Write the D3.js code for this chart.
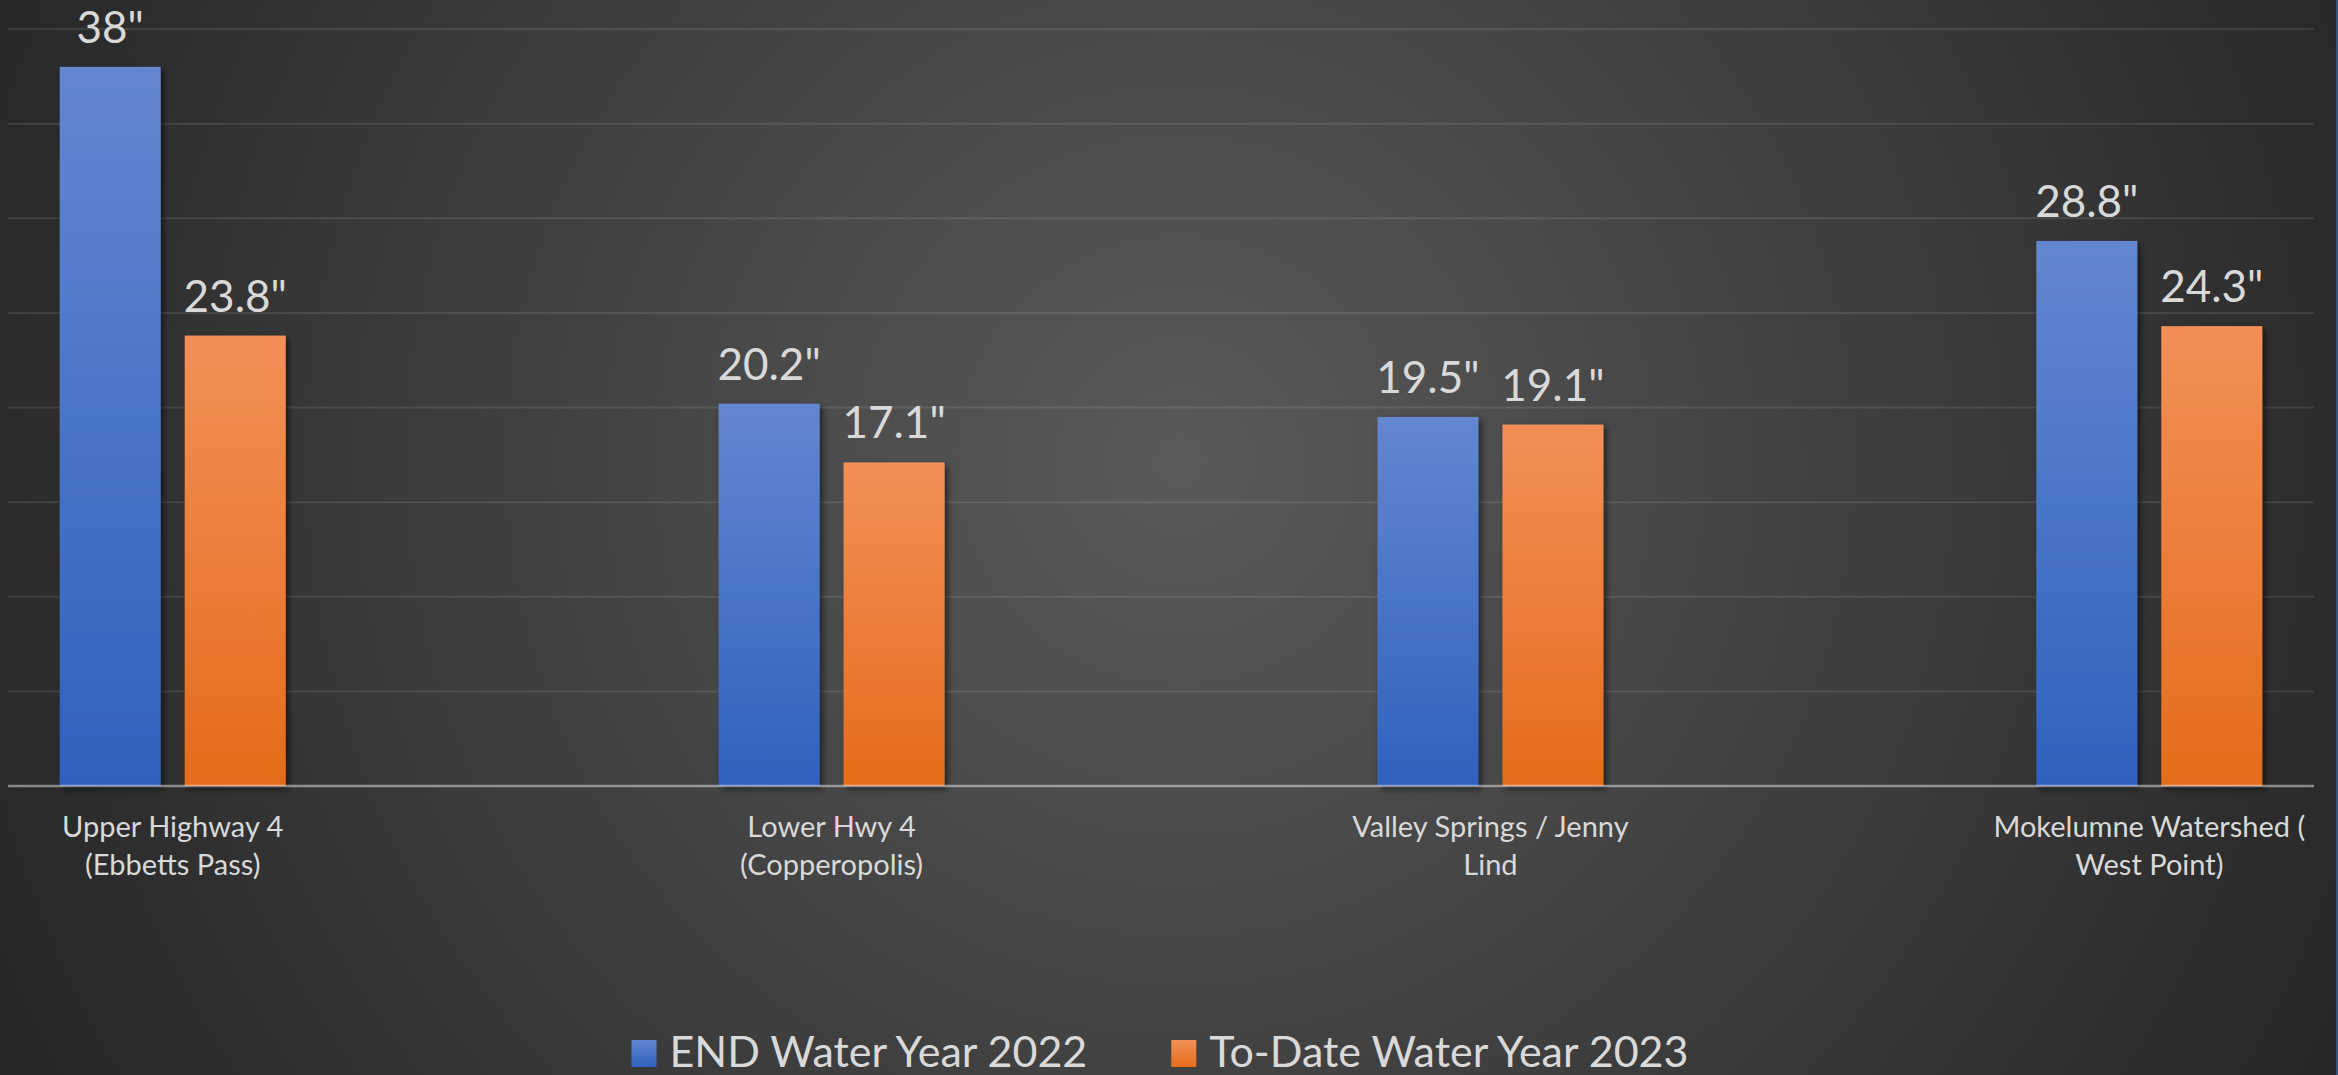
<!DOCTYPE html>
<html>
<head>
<meta charset="utf-8">
<script src="https://cdn.jsdelivr.net/npm/d3@7/dist/d3.min.js"></script>
<style>
  html, body { margin: 0; padding: 0; background: #262626; overflow: hidden; }
  svg { display: block; }
  .gridLine { stroke: rgba(255,255,255,0.10); stroke-width: 2; }
  .baseLine { stroke: rgba(255,255,255,0.45); stroke-width: 2.5; }
  .catLabel { fill: #d9d9d9; font-family: Lato, "Open Sans", sans-serif; font-size: 29px; }
  .valLabel { fill: #d9d9d9; font-family: Lato, "Open Sans", sans-serif; font-size: 44px; }
  .legendTxt { fill: #d9d9d9; font-family: Lato, "Open Sans", sans-serif; font-size: 43px; }
</style>
</head>
<body>
<div id="chart"></div>
<script>
// data
var categories = [
  "Upper Highway 4\n(Ebbetts Pass)",
  "Lower Hwy 4\n(Copperopolis)",
  "Valley Springs / Jenny\nLind",
  "Mokelumne Watershed (\nWest Point)"
];
var seriesNames = ["END Water Year 2022", "To-Date Water Year 2023"];
var endWY2022 = [38, 20.2, 19.5, 28.8];
var toDateWY2023 = [23.8, 17.1, 19.1, 24.3];
var yTicks = [5, 10, 15, 20, 25, 30, 35, 40];

var seriesColors = {
  "END Water Year 2022": ["#6387cf", "#2f61be"],
  "To-Date Water Year 2023": ["#f39058", "#e46c1b"]
};

(function () {
  'use strict'

  var W = 2338, H = 1075;
  var plotLeft = 8, plotRight = 2314, plotTop = 29, plotBottom = 786;

  var rows = categories.map(function (c, i) {
    return { cat: c, values: [endWY2022[i], toDateWY2023[i]] };
  });

  var svg = d3.select("#chart").append("svg")
    .attr("width", W)
    .attr("height", H);

  var defs = svg.append("defs");

  // background: radial gradient, lighter in the middle
  var bg = defs.append("radialGradient")
    .attr("id", "bgGrad")
    .attr("gradientUnits", "userSpaceOnUse")
    .attr("cx", 1180).attr("cy", 460).attr("r", 1300);
  bg.append("stop").attr("offset", "0%").attr("stop-color", "#5a5a5a");
  bg.append("stop").attr("offset", "100%").attr("stop-color", "#262626");

  seriesNames.forEach(function (s, i) {
    var g = defs.append("linearGradient")
      .attr("id", "barGrad" + i)
      .attr("x1", 0).attr("y1", 0).attr("x2", 0).attr("y2", 1);
    g.append("stop").attr("offset", "0%").attr("stop-color", seriesColors[s][0]);
    g.append("stop").attr("offset", "100%").attr("stop-color", seriesColors[s][1]);
  });

  var shadow = defs.append("filter")
    .attr("id", "barShadow")
    .attr("x", "-20%").attr("y", "-5%").attr("width", "150%").attr("height", "115%");
  shadow.append("feDropShadow")
    .attr("dx", 3).attr("dy", 3).attr("stdDeviation", 3)
    .attr("flood-color", "#000").attr("flood-opacity", 0.55);

  svg.append("rect")
    .attr("width", W).attr("height", H)
    .attr("fill", "url(#bgGrad)");

  var x0 = d3.scalePoint()
    .domain(categories)
    .range([plotLeft, plotRight])
    .padding(0.25);

  var x1 = d3.scaleBand()
    .domain(seriesNames)
    .range([-113, 113])
    .paddingInner(0.192);

  var y = d3.scaleLinear()
    .domain([0, 40])
    .range([plotBottom, plotTop]);

  // gridlines
  svg.append("g")
    .selectAll("line")
    .data(yTicks)
    .enter().append("line")
    .attr("class", "gridLine")
    .attr("x1", plotLeft).attr("x2", plotRight)
    .attr("y1", function (d) { return y(d); })
    .attr("y2", function (d) { return y(d); });

  // bars
  var groups = svg.append("g")
    .selectAll("g")
    .data(rows)
    .enter().append("g")
    .attr("transform", function (d) { return "translate(" + x0(d.cat) + ",0)"; });

  groups.selectAll("rect")
    .data(function (d) { return d.values.map(function (v, i) { return { s: seriesNames[i], i: i, v: v }; }); })
    .enter().append("rect")
    .attr("x", function (d) { return x1(d.s); })
    .attr("y", function (d) { return y(d.v); })
    .attr("width", x1.bandwidth())
    .attr("height", function (d) { return y(0) - y(d.v); })
    .attr("fill", function (d) { return "url(#barGrad" + d.i + ")"; })
    .attr("filter", "url(#barShadow)");

  groups.selectAll("text.valLabel")
    .data(function (d) { return d.values.map(function (v, i) { return { s: seriesNames[i], v: v }; }); })
    .enter().append("text")
    .attr("class", "valLabel")
    .attr("text-anchor", "middle")
    .attr("x", function (d) { return x1(d.s) + x1.bandwidth() / 2; })
    .attr("y", function (d) { return y(d.v) - 24; })
    .text(function (d) { return d.v + '"'; });

  // axis line
  svg.append("line")
    .attr("class", "baseLine")
    .attr("x1", plotLeft).attr("x2", plotRight)
    .attr("y1", y(0)).attr("y2", y(0));

  // category labels (two lines)
  var catText = svg.append("g")
    .selectAll("text")
    .data(categories)
    .enter().append("text")
    .attr("class", "catLabel")
    .attr("text-anchor", "middle")
    .attr("x", function (d) { return x0(d); })
    .attr("y", 837);
  catText.selectAll("tspan")
    .data(function (d) { return d.split("\n"); })
    .enter().append("tspan")
    .attr("x", function () { return x0(d3.select(this.parentNode).datum()); })
    .attr("dy", function (d, i) { return i === 0 ? 0 : 38; })
    .text(function (d) { return d; });

  // legend
  var legend = svg.append("g");
  var items = legend.selectAll("g")
    .data(seriesNames)
    .enter().append("g");
  items.append("rect")
    .attr("x", 0).attr("y", -27)
    .attr("width", 25).attr("height", 27)
    .attr("fill", function (d, i) { return "url(#barGrad" + i + ")"; });
  items.append("text")
    .attr("class", "legendTxt")
    .attr("x", 38).attr("y", 0)
    .text(function (d) { return d; });

  var offs = [], cur = 0;
  items.each(function () {
    offs.push(cur);
    cur += 38 + this.querySelector("text").getComputedTextLength() + 84;
  });
  var total = cur - 84;
  var startX = 1160 - total / 2;
  items.attr("transform", function (d, i) { return "translate(" + (startX + offs[i]) + ",1067)"; });

  // thin border at the right edge
  svg.append("line")
    .attr("x1", W - 1).attr("x2", W - 1)
    .attr("y1", 0).attr("y2", H)
    .attr("stroke", "#3d6299").attr("stroke-width", 1.5);

})()
</script>
</body>
</html>
